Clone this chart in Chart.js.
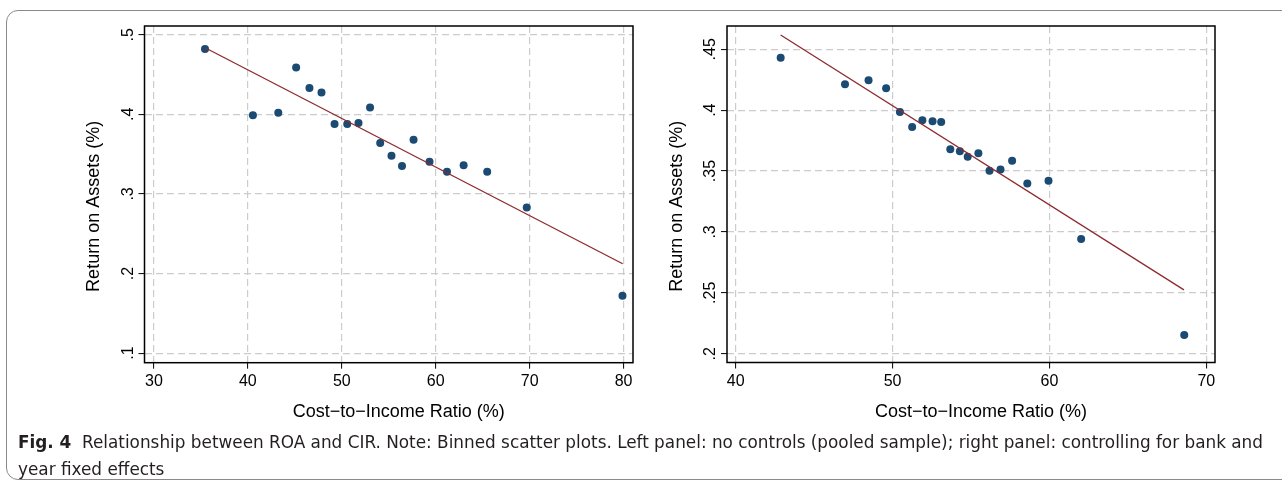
<!DOCTYPE html>
<html>
<head>
<meta charset="utf-8">
<script src="https://cdn.jsdelivr.net/npm/chart.js@4"></script>
<style>
  html, body { margin: 0; padding: 0; background: #fff; overflow: hidden; }
  body { width: 1282px; height: 486px; position: relative; }
  .frame { position: absolute; left: 6px; top: 10px; width: 1300px; height: 470px;
           border: 1px solid #8a8a8a; border-radius: 12px; box-sizing: border-box; }
  canvas { position: absolute; top: 0; }
  #left { left: 0; }
  #right { left: 660px; }
  .cap { position: absolute; left: 18px; top: 428px; font-family: "DejaVu Sans", sans-serif; font-stretch: condensed;
         font-size: 18px; line-height: 27px; color: #231f20; white-space: nowrap; transform-origin: 0 0; }
  .cap b { font-weight: bold; }
</style>
</head>
<body>
<div class="frame"></div>
<canvas id="left" width="660" height="430"></canvas>
<canvas id="right" width="622" height="430"></canvas>
<div class="cap" id="cap"><b>Fig. 4</b>&nbsp; Relationship between ROA and CIR. Note: Binned scatter plots. Left panel: no controls (pooled sample); right panel: controlling for bank and<br>year fixed effects</div>
<script>
// left panel: pooled sample
var leftCir = [35.44, 40.54, 43.24, 45.14, 46.56, 47.84, 49.23, 50.58, 51.78, 53.01, 54.09, 55.29, 56.41, 57.64, 59.34, 61.2, 62.97, 65.48, 69.69, 79.88];
var leftRoa = [0.482, 0.399, 0.402, 0.459, 0.433, 0.4275, 0.388, 0.388, 0.389, 0.4085, 0.364, 0.348, 0.335, 0.368, 0.3405, 0.328, 0.336, 0.328, 0.283, 0.172];
var leftFitX = [35.45, 79.9];
var leftFitY = [0.4837, 0.2123];
var leftXTicks = [30, 40, 50, 60, 70, 80];
var leftYTicks = [0.1, 0.2, 0.3, 0.4, 0.5];
var leftXRange = [29.0, 81.0];
var leftYRange = [0.088, 0.511];

// right panel: bank and year fixed effects
var rightCir = [42.87, 46.97, 48.47, 49.59, 50.47, 51.25, 51.9, 52.55, 53.1, 53.68, 54.29, 54.79, 55.47, 56.18, 56.88, 57.62, 58.59, 59.94, 62.02, 68.59];
var rightRoa = [0.4431, 0.4213, 0.4245, 0.418, 0.3985, 0.3862, 0.3917, 0.3909, 0.3903, 0.3679, 0.3663, 0.3618, 0.3646, 0.3503, 0.3512, 0.3585, 0.3397, 0.3421, 0.2943, 0.2154];
var rightFitX = [42.87, 68.57];
var rightFitY = [0.4617, 0.2524];
var rightXTicks = [40, 50, 60, 70];
var rightYTicks = [0.2, 0.25, 0.3, 0.35, 0.4, 0.45];
var rightXRange = [39.45, 70.55];
var rightYRange = [0.1928, 0.4691];

var FONT = "'Liberation Sans', Arial, Helvetica, sans-serif";

function pts(xs, ys) {
  return xs.map(function(x, i) { return { x: x, y: ys[i] }; });
}

function fmtY(v) {
  return String(+v.toFixed(2)).replace(/^0\./, '.');
}

// draws box, rotated y tick labels and axis titles
var decor = {
  id: 'decor',
  afterDraw: function(chart) {
    var ctx = chart.ctx, a = chart.chartArea, ys = chart.scales.y;
    ctx.save();
    ctx.fillStyle = '#000';
    ctx.font = '16px ' + FONT;
    ys.ticks.forEach(function(t) {
      var py = ys.getPixelForValue(t.value);
      ctx.save();
      ctx.translate(a.left - 12, py);
      ctx.rotate(-Math.PI / 2);
      ctx.textAlign = 'center';
      ctx.textBaseline = 'alphabetic';
      ctx.fillText(fmtY(t.value), 0, 0);
      ctx.restore();
    });
    ctx.font = '18px ' + FONT;
    ctx.save();
    ctx.translate(a.left - 50, (a.top + a.bottom) / 2 + 12);
    ctx.rotate(-Math.PI / 2);
    ctx.textAlign = 'center';
    ctx.textBaseline = 'middle';
    ctx.fillText('Return on Assets (%)', 0, 0);
    ctx.restore();
    ctx.textAlign = 'center';
    ctx.textBaseline = 'middle';
    ctx.fillText('Cost\u2212to\u2212Income Ratio (%)', (a.left + a.right) / 2 + 10, 412);
    ctx.strokeStyle = '#000';
    ctx.lineWidth = 1.5;
    ctx.strokeRect(a.left, a.top, a.right - a.left, a.bottom - a.top);
    ctx.restore();
  }
};

function makeChart(id, cir, roa, fitX, fitY, xTicks, yTicks, xRange, yRange, area) {
  var canvas = document.getElementById(id);
  return new Chart(canvas, {
    type: 'scatter',
    data: {
      datasets: [{
        data: pts(fitX, fitY),
        showLine: true,
        borderColor: '#8e2b2e',
        borderWidth: 1.3,
        pointRadius: 0
      }, {
        data: pts(cir, roa),
        backgroundColor: '#1b4a72',
        borderColor: '#1b4a72',
        borderWidth: 0,
        pointRadius: 4
      }]
    },
    options: {
      responsive: false,
      animation: false,
      devicePixelRatio: 1,
      layout: { padding: { left: 0, top: area.top, right: area.right, bottom: 0 } },
      plugins: { legend: { display: false }, tooltip: { enabled: false } },
      scales: {
        x: {
          type: 'linear',
          min: xRange[0], max: xRange[1],
          afterBuildTicks: function(s) { s.ticks = xTicks.map(function(v) { return { value: v }; }); },
          afterFit: function(s) { s.height = area.xh; },
          ticks: { color: '#000', font: { family: FONT, size: 16 }, padding: 3, maxRotation: 0 },
          grid: { color: '#cccccc', lineWidth: 1.2, tickColor: '#000', tickLength: 6, tickWidth: 1 },
          border: { display: false, dash: [7, 4] }
        },
        y: {
          type: 'linear',
          min: yRange[0], max: yRange[1],
          afterBuildTicks: function(s) { s.ticks = yTicks.map(function(v) { return { value: v }; }); },
          afterFit: function(s) { s.width = area.yw; },
          ticks: { display: false },
          grid: { color: '#cccccc', lineWidth: 1.2, tickColor: '#000', tickLength: 6, tickWidth: 1 },
          border: { display: false, dash: [7, 4] }
        }
      }
    },
    plugins: [decor]
  });
}

makeChart('left', leftCir, leftRoa, leftFitX, leftFitY, leftXTicks, leftYTicks, leftXRange, leftYRange,
  { top: 26, right: 27, xh: 67.3, yw: 144.5 });
makeChart('right', rightCir, rightRoa, rightFitX, rightFitY, rightXTicks, rightYTicks, rightXRange, rightYRange,
  { top: 26, right: 67, xh: 67.5, yw: 67 });

// stretch caption first line to the printed width
var cap = document.getElementById('cap');
var w = cap.getBoundingClientRect().width;
cap.style.transform = 'scaleX(' + (1245 / w) + ')';
</script>
</body>
</html>
